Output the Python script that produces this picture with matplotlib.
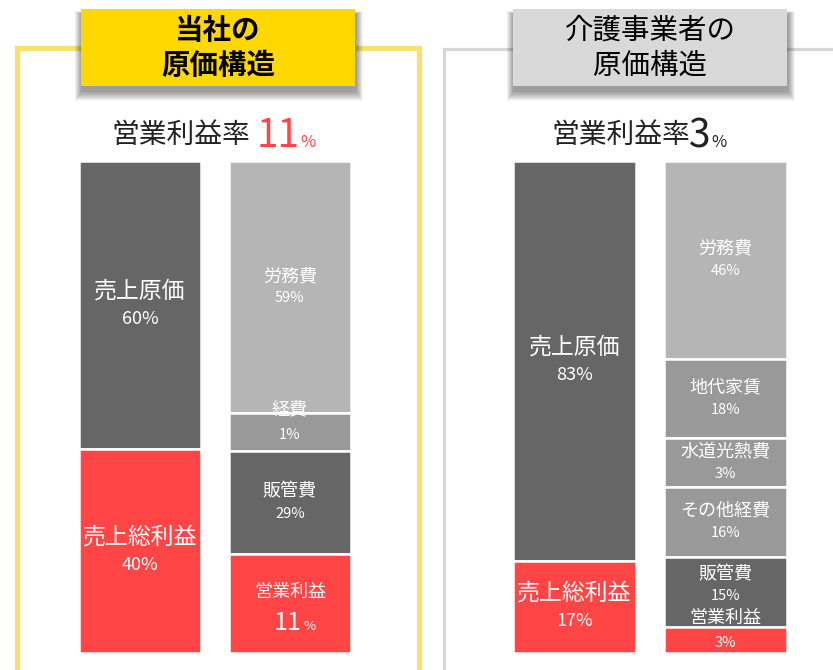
import matplotlib
matplotlib.use('Agg')
import matplotlib.pyplot as plt
from matplotlib.patches import Rectangle
import numpy as np

plt.rcParams['font.family'] = ['Noto Sans CJK JP', 'DejaVu Sans']

# --- data (segment heights are as drawn in the picture, labels as printed) ---
left_title = ['当社の', '原価構造']
right_title = ['介護事業者の', '原価構造']
margin_label = '営業利益率'
left_margin = '11'
right_margin = '3'

left_col1_names = ['売上原価', '売上総利益']
left_col1_pct = ['60%', '40%']
left_col1_height = [58.5, 41.5]
left_col2_names = ['労務費', '経費', '販管費', '営業利益']
left_col2_pct = ['59%', '1%', '29%', '11%']
left_col2_height = [51.3, 7.6, 21.0, 20.1]

right_col1_names = ['売上原価', '売上総利益']
right_col1_pct = ['83%', '17%']
right_col1_height = [81.2, 18.8]
right_col2_names = ['労務費', '地代家賃', '水道光熱費', 'その他経費', '販管費', '営業利益']
right_col2_pct = ['46%', '18%', '3%', '16%', '15%', '3%']
right_col2_height = [40.2, 16.2, 9.9, 14.1, 14.4, 5.2]

# --- styles ---
RED = '#FF4545'
DARK = '#666666'
LIGHT = '#B5B5B5'
MID = '#999999'
seg_colors = {'売上原価': DARK, '売上総利益': RED, '労務費': LIGHT,
              '販管費': DARK, '営業利益': RED}

W, H = 833, 670
fig = plt.figure(figsize=(W / 100, H / 100), dpi=100)

bg = fig.add_axes([0, 0, 1, 1])
bg.set_xlim(0, W)
bg.set_ylim(H, 0)
bg.axis('off')

# panel frames
bg.plot([17, 17, 419, 419], [H + 10, 48, 48, H + 10], color='#F7DF72', lw=3.8,
        solid_joinstyle='miter', zorder=1)
bg.plot([444, 444, W + 10], [H + 10, 48.5, 48.5], color='#D6D6D6', lw=2.3,
        solid_joinstyle='miter', zorder=1)


def title_box(x0, x1, y0, y1, color, lines, weight):
    # soft drop shadow
    for k in range(14, 0, -1):
        bg.add_patch(Rectangle((x0 + 1 - k * 0.5, y0 + 5 - k * 0.2),
                               (x1 - x0) + k * 1.0, (y1 - y0) + k * 0.9,
                               facecolor='black', alpha=0.03, lw=0, zorder=2))
    bg.add_patch(Rectangle((x0, y0), x1 - x0, y1 - y0, facecolor=color, lw=0, zorder=3))
    xc = (x0 + x1) / 2
    for line, yc in zip(lines, [31, 66]):
        bg.text(xc, yc, line, ha='center', va='center', fontsize=20.5,
                fontweight=weight, color='black', zorder=4)


title_box(81, 355, 9, 86, '#FFD800', left_title, 'bold')
title_box(513, 787, 9, 86, '#D9D9D9', right_title, 'normal')

# operating margin headline
bg.text(181, 135, margin_label, ha='center', va='center', fontsize=20, color='#222222')
bg.text(300, 147, left_margin, ha='right', va='baseline', fontsize=28, color=RED)
bg.text(300, 147, '%', ha='left', va='baseline', fontsize=12, color=RED)
bg.text(621, 135, margin_label, ha='center', va='center', fontsize=20, color='#222222')
bg.text(710, 147, right_margin, ha='right', va='baseline', fontsize=28, color='#222222')
bg.text(711, 147, '%', ha='left', va='baseline', fontsize=12, color='#222222')


def draw_panel(x_left, x_right, cols):
    y_top, y_bot = 161, 653
    ax = fig.add_axes([x_left / W, (H - y_bot) / H, (x_right - x_left) / W, (y_bot - y_top) / H])
    ax.patch.set_alpha(0)
    ax.axis('off')
    colw = 0.815
    ax.set_xlim(-colw / 2, 1 + colw / 2)
    ax.set_ylim(0, 100)
    for ci, (names, pcts, heights) in enumerate(cols):
        tops = 100 - np.concatenate([[0], np.cumsum(heights)[:-1]])
        bottoms = tops - np.array(heights)
        colors = [seg_colors.get(n, MID) for n in names]
        ax.bar([ci] * len(names), heights, bottom=bottoms, width=colw, color=colors,
               edgecolor='white', linewidth=1.8)
        big = ci == 0
        name_fs, pct_fs = (16.5, 13) if big else (13, 10.5)
        d = 10 if big else 8
        for i, (n, p, h, b) in enumerate(zip(names, pcts, heights, bottoms)):
            mid = b + h / 2
            if h < 9:
                name_off, pct_off = 16, -2
            else:
                name_off, pct_off = d, -d
                # make room for the label of a thin segment underneath
                if i + 1 < len(heights) and heights[i + 1] < 6:
                    name_off, pct_off = name_off + 5, pct_off + 5
            ax.annotate(n, (ci, mid), xytext=(0, name_off), textcoords='offset points',
                        ha='center', va='center', fontsize=name_fs, color='white')
            if n == '営業利益' and p == '11%':
                ax.annotate(p[:-1], (ci, mid), xytext=(8.5, -19), textcoords='offset points',
                            ha='right', va='baseline', fontsize=18, color='white')
                ax.annotate('%', (ci, mid), xytext=(9.5, -19), textcoords='offset points',
                            ha='left', va='baseline', fontsize=9.5, color='white')
            else:
                ax.annotate(p, (ci, mid), xytext=(0, pct_off), textcoords='offset points',
                            ha='center', va='center', fontsize=pct_fs, color='white')
    return ax


draw_panel(79, 351, [(left_col1_names, left_col1_pct, left_col1_height),
                     (left_col2_names, left_col2_pct, left_col2_height)])
draw_panel(513, 787, [(right_col1_names, right_col1_pct, right_col1_height),
                      (right_col2_names, right_col2_pct, right_col2_height)])

fig.savefig('out.png', dpi=100, facecolor='white')
